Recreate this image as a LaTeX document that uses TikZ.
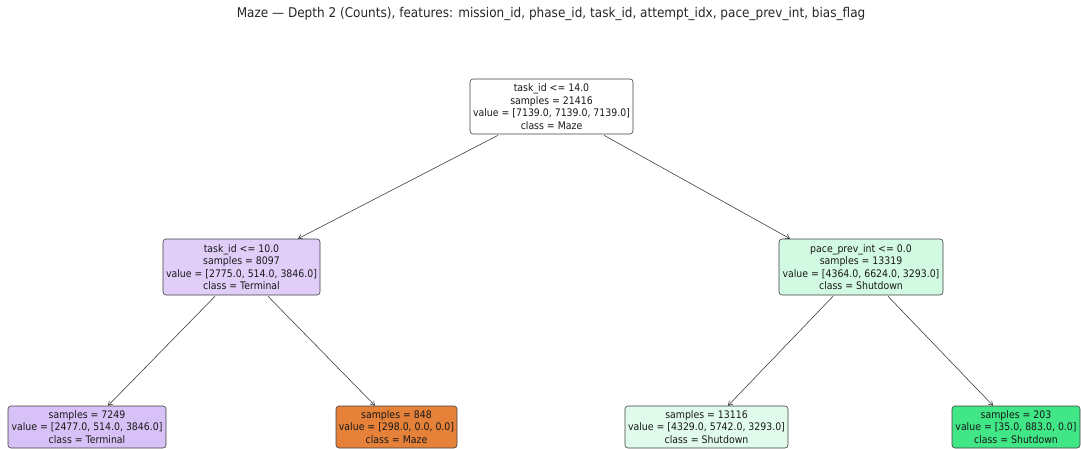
\documentclass[tikz,border=0pt]{standalone}
\usepackage{fontspec}
\setmainfont{DejaVu Sans}[FakeStretch=0.9]
\usetikzlibrary{arrows.meta,calc}

\definecolor{rootfill}{RGB}{255,255,255}
\definecolor{termmid}{RGB}{224,206,249}
\definecolor{shutmid}{RGB}{210,249,226}
\definecolor{termleaf}{RGB}{215,193,247}
\definecolor{mazeleaf}{RGB}{229,129,57}
\definecolor{shutleafa}{RGB}{224,251,235}
\definecolor{shutleafb}{RGB}{65,230,134}
\definecolor{edgegray}{RGB}{50,50,50}

\tikzset{
  treebox/.style={draw=black!75, line width=0.6pt, rounded corners=3pt,
    align=center, inner sep=0pt, text=black!90,
    font=\fontsize{10.4}{12.5}\selectfont},
  split/.style={edgegray, line width=0.55pt, -{Straight Barb[length=4pt,width=5pt]}}
}

\begin{document}
\begin{tikzpicture}[x=1pt,y=-1pt]
  \useasboundingbox (0,0) rectangle (1081,449);

  \node[font=\fontsize{13.4}{15}\selectfont, text=black!85] (title) at (551,14)
    {Maze — Depth 2 (Counts), features: mission\_id, phase\_id, task\_id, attempt\_idx, pace\_prev\_int, bias\_flag};

  % internal nodes
  \node[treebox, fill=rootfill, minimum width=163pt, minimum height=55pt] (root) at (551.5,106.5)
    {task\_id <= 14.0\\samples = 21416\\value = [7139.0, 7139.0, 7139.0]\\class = Maze};
  \node[treebox, fill=termmid, minimum width=157pt, minimum height=56pt] (lmid) at (241.5,267)
    {task\_id <= 10.0\\samples = 8097\\value = [2775.0, 514.0, 3846.0]\\class = Terminal};
  \node[treebox, fill=shutmid, minimum width=164pt, minimum height=56pt] (rmid) at (861,267)
    {pace\_prev\_int <= 0.0\\samples = 13319\\value = [4364.0, 6624.0, 3293.0]\\class = Shutdown};

  % leaves
  \node[treebox, fill=termleaf, minimum width=158pt, minimum height=42pt] (leafa) at (87,427)
    {samples = 7249\\value = [2477.0, 514.0, 3846.0]\\class = Terminal};
  \node[treebox, fill=mazeleaf, minimum width=121pt, minimum height=42pt] (leafb) at (396.5,427)
    {samples = 848\\value = [298.0, 0.0, 0.0]\\class = Maze};
  \node[treebox, fill=shutleafa, minimum width=163pt, minimum height=42pt] (leafc) at (706.5,427)
    {samples = 13116\\value = [4329.0, 5742.0, 3293.0]\\class = Shutdown};
  \node[treebox, fill=shutleafb, minimum width=128pt, minimum height=42pt] (leafd) at (1016,427)
    {samples = 203\\value = [35.0, 883.0, 0.0]\\class = Shutdown};

  % splits
  \draw[split] ($(root.south)+(-53.5,1)$) -- ($(lmid.north)+(56.5,0)$);
  \draw[split] ($(root.south)+(52.5,1)$) -- ($(rmid.north)+(-71,0)$);
  \draw[split] ($(lmid.south)+(-26.5,1)$) -- ($(leafa.north)+(21,0)$);
  \draw[split] ($(lmid.south)+(26.5,1)$) -- ($(leafb.north)+(-21.5,0)$);
  \draw[split] ($(rmid.south)+(-28,1)$) -- ($(leafc.north)+(21.5,0)$);
  \draw[split] ($(rmid.south)+(27,1)$) -- ($(leafd.north)+(-23,0)$);
\end{tikzpicture}
\end{document}
